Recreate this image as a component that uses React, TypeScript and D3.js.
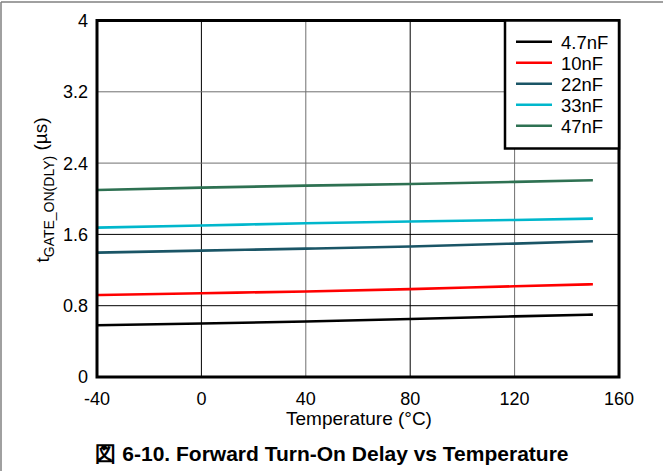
import React from "react";
import * as d3 from "d3";

const temps = [-40, 0, 40, 80, 120, 150];
const seriesNames = ["4.7nF", "10nF", "22nF", "33nF", "47nF"];
const seriesColors = ["#000000", "#ff0000", "#1a5566", "#00b7cc", "#2e7152"];
const s4p7 = [0.58, 0.6, 0.623, 0.65, 0.68, 0.7];
const s10 = [0.92, 0.94, 0.96, 0.986, 1.018, 1.04];
const s22 = [1.395, 1.418, 1.44, 1.465, 1.497, 1.523];
const s33 = [1.676, 1.7, 1.725, 1.745, 1.762, 1.777];
const s47 = [2.099, 2.125, 2.147, 2.166, 2.189, 2.208];
const seriesValues = [s4p7, s10, s22, s33, s47];
const xTicks = [-40, 0, 40, 80, 120, 160];
const yTicks = [0, 0.8, 1.6, 2.4, 3.2, 4];
const xTitle = "Temperature (°C)";
const chartTitle = "図 6-10. Forward Turn-On Delay vs Temperature";

const W = 663;
const H = 471;
const L = 97, R = 619, T = 20.5, B = 377;

export default function App() {
  const x = d3.scaleLinear().domain([-40, 160]).range([L, R]);
  const y = d3.scaleLinear().domain([0, 4]).range([B, T]);
  const line = d3
    .line<[number, number]>()
    .x((d) => x(d[0]))
    .y((d) => y(d[1]))
    .curve(d3.curveMonotoneX);
  const font = "'Liberation Sans', Arial, sans-serif";

  return (
    <svg
      width={W}
      height={H}
      style={{ position: "absolute", left: 0, top: 0, display: "block" }}
      fontFamily={font}
    >
      <rect x={0} y={0} width={W} height={H} fill="#fff" />
      <line x1={1} y1={2} x2={W} y2={2} stroke="#808080" strokeWidth={1.5} />
      <line x1={1} y1={2} x2={1} y2={H} stroke="#808080" strokeWidth={1.5} />
      {xTicks.slice(1, -1).map((t, i) => (
        <line
          key={"gx" + t}
          x1={x(t)}
          x2={x(t)}
          y1={T}
          y2={B}
          stroke={i === 1 || i === 3 ? "#707070" : "#000"}
          strokeWidth={1}
        />
      ))}
      {yTicks.slice(1, -1).map((t, i) => (
        <line
          key={"gy" + t}
          x1={L}
          x2={R}
          y1={y(t)}
          y2={y(t)}
          stroke={i >= 2 ? "#707070" : "#000"}
          strokeWidth={1}
        />
      ))}
      {seriesValues.map((vals, i) => (
        <path
          key={seriesNames[i]}
          d={line(temps.map((t, j) => [t, vals[j]] as [number, number])) || ""}
          fill="none"
          stroke={seriesColors[i]}
          strokeWidth={2.6}
        />
      ))}
      <rect x={L} y={T} width={R - L} height={B - T} fill="none" stroke="#000" strokeWidth={3} />
      <rect x={505} y={T} width={R - 505} height={128} fill="#fff" stroke="#000" strokeWidth={2.5} />
      {seriesNames.map((n, i) => (
        <g key={"lg" + n}>
          <line
            x1={516}
            x2={552}
            y1={41.7 + i * 21}
            y2={41.7 + i * 21}
            stroke={seriesColors[i]}
            strokeWidth={2.6}
          />
          <text x={561} y={42.5 + i * 21} dy="0.36em" fontSize={18.5} fill="#000">
            {n}
          </text>
        </g>
      ))}
      {yTicks.map((t) => (
        <text key={"yt" + t} x={88} y={y(t)} dy="0.36em" textAnchor="end" fontSize={18} fill="#000">
          {String(t)}
        </text>
      ))}
      {xTicks.map((t) => (
        <text key={"xt" + t} x={x(t)} y={399} dy="0.36em" textAnchor="middle" fontSize={18} fill="#000">
          {String(t)}
        </text>
      ))}
      <text x={359} y={418} dy="0.36em" textAnchor="middle" fontSize={19} fill="#000">
        {xTitle}
      </text>
      <text
        transform={`translate(42,190) rotate(-90)`}
        textAnchor="middle"
        dy="0.36em"
        fontSize={19}
        fill="#000"
      >
        t
        <tspan fontSize={14} dy="0.35em">GATE_ON(DLY)</tspan>
        <tspan dy="-0.35em"> (µs)</tspan>
      </text>
      <text x={332} y={453} dy="0.36em" textAnchor="middle" fontSize={21} fontWeight="bold" fill="#000">
        {chartTitle}
      </text>
    </svg>
  );
}
